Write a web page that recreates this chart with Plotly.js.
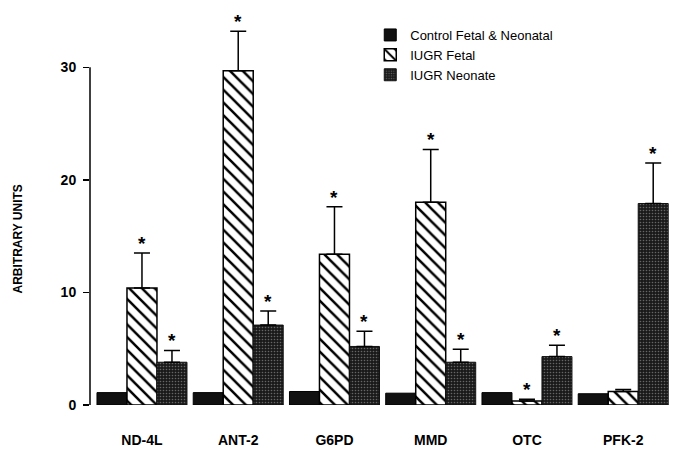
<!DOCTYPE html>
<html>
<head>
<meta charset="utf-8">
<script src="https://cdn.plot.ly/plotly-3.0.1.min.js"></script>
<style>html,body{margin:0;padding:0;background:#fff;}#chart{width:685px;height:460px;}</style>
</head>
<body>
<div id="chart"></div>
<script>
// Data
var categories = ["ND-4L", "ANT-2", "G6PD", "MMD", "OTC", "PFK-2"];
var seriesNames = ["Control Fetal & Neonatal", "IUGR Fetal", "IUGR Neonate"];
var controlValues = [1.1, 1.1, 1.2, 1.05, 1.1, 1.0];
var fetalValues   = [10.4, 29.7, 13.4, 18.0, 0.35, 1.2];
var fetalErrors   = [3.1, 3.5, 4.2, 4.7, 0.15, 0.17];
var fetalStars    = [true, true, true, true, true, false];
var neonateValues = [3.8, 7.1, 5.2, 3.8, 4.3, 17.9];
var neonateErrors = [1.05, 1.25, 1.35, 1.15, 1.0, 3.6];
var neonateStars  = [true, true, true, true, true, true];
var yTicks = [0, 10, 20, 30];
var yAxisLabel = "ARBITRARY UNITS";

var xIdx = categories.map(function (c, i) { return i; });
var zeros = categories.map(function () { return 0; });
var FONT = "Liberation Sans, Arial, Helvetica, sans-serif";

function errBar(arr) {
  return {type: "data", array: arr, arrayminus: zeros, symmetric: false,
          color: "#000", thickness: 1.5, width: 8, visible: true};
}

var traces = [
  {type: "bar", name: seriesNames[0], x: xIdx, y: controlValues,
   marker: {color: "#111", line: {color: "#000", width: 1}}},
  {type: "bar", name: seriesNames[1], x: xIdx, y: fetalValues,
   marker: {color: "#fff", line: {color: "#000", width: 1.5},
            pattern: {shape: "\\", bgcolor: "#fff", fgcolor: "#000", size: 9, solidity: 0.28}},
   error_y: errBar(fetalErrors)},
  {type: "bar", name: seriesNames[2], x: xIdx, y: neonateValues,
   marker: {color: "#222", line: {color: "#111", width: 1},
            pattern: {shape: ".", bgcolor: "#1a1a1a", fgcolor: "#666", size: 3, solidity: 0.22}},
   error_y: errBar(neonateErrors)}
];

var BAR_PX = 30; // pixel offset of each bar inside its group
var annotations = [];
function addStars(values, errors, stars, shift) {
  values.forEach(function (v, i) {
    if (!stars[i]) return;
    annotations.push({x: i, y: v + errors[i], xref: "x", yref: "y", xshift: shift,
      text: "*", showarrow: false, yanchor: "bottom", yshift: -3,
      font: {family: FONT, size: 19, weight: "bold", color: "#000"}});
  });
}
addStars(fetalValues, fetalErrors, fetalStars, 0);
addStars(neonateValues, neonateErrors, neonateStars, BAR_PX);

annotations.push({xref: "paper", yref: "paper", x: -0.122, y: 0.43, text: yAxisLabel,
  textangle: -90, showarrow: false, xanchor: "center", yanchor: "middle",
  font: {family: FONT, size: 12, weight: "bold", color: "#000"}});

var layout = {
  width: 685, height: 460,
  margin: {l: 90, r: 5, t: 20, b: 55},
  paper_bgcolor: "#fff", plot_bgcolor: "#fff",
  font: {family: FONT, color: "#000"},
  barmode: "group", bargap: 0.065, bargroupgap: 0,
  showlegend: true,
  legend: {x: 0.475, y: 1.0, xanchor: "left", yanchor: "top",
           font: {family: FONT, size: 13, color: "#000"},
           bgcolor: "rgba(0,0,0,0)", tracegroupgap: 0, itemwidth: 30},
  xaxis: {range: [-0.54, 5.59], tickvals: xIdx, ticktext: categories,
          showline: false, showgrid: false, zeroline: false, ticks: "",
          ticklabelstandoff: 25,
          tickfont: {family: FONT, size: 14, weight: "bold", color: "#000"}},
  yaxis: {range: [0, 34.2], tickvals: yTicks, ticktext: yTicks.map(String),
          showline: false, showgrid: false, zeroline: false,
          ticks: "outside", ticklen: 6, tickwidth: 1.5, tickcolor: "#000",
          ticklabelstandoff: 4,
          tickfont: {family: FONT, size: 14, weight: "bold", color: "#000"}},
  shapes: [{type: "line", xref: "paper", yref: "y", x0: 0, x1: 0,
            y0: yTicks[0], y1: yTicks[yTicks.length - 1],
            line: {color: "#000", width: 1.5}}],
  annotations: annotations
};

Plotly.newPlot("chart", traces, layout, {displayModeBar: false, staticPlot: true});
</script>
</body>
</html>
